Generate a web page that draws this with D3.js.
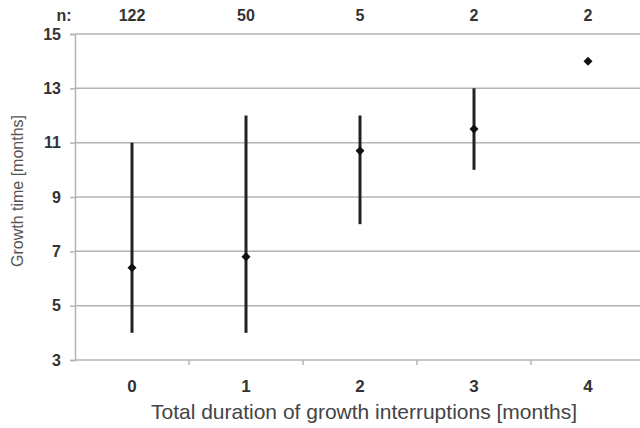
<!DOCTYPE html>
<html><head><meta charset="utf-8">
<script src="https://cdn.jsdelivr.net/npm/d3@7"></script>
<style>body{margin:0;background:#fff}svg{display:block}text{font-family:"Liberation Sans",Arial,sans-serif}</style>
</head><body>
<svg id="c" width="640" height="428"></svg>
<script>
const categories = ["0","1","2","3","4"];
const nCounts = ["122","50","5","2","2"];
const means = [6.4, 6.8, 10.7, 11.5, 14];
const mins = [4, 4, 8, 10, null];
const maxs = [11, 12, 12, 13, null];
const yTicks = [3,5,7,9,11,13,15];

const svg = d3.select("#c");
const L = 75, R = 645, T = 34, B = 360;
const x = d3.scaleBand().domain(categories).range([L, R]);
const y = d3.scaleLinear().domain([3,15]).range([B, T]);
const ink = "#333";
const grid = "#b4b4b4";
const FF = "Liberation Sans, Arial, sans-serif";

// gridlines
svg.append("g").selectAll("line").data(yTicks).join("line")
  .attr("x1", L).attr("x2", R).attr("y1", d=>y(d)).attr("y2", d=>y(d))
  .attr("stroke", grid).attr("stroke-width", 1.5);

// y axis
const ya = svg.append("g").attr("transform", `translate(${L},0)`)
  .call(d3.axisLeft(y).tickValues(yTicks).tickSize(5).tickPadding(9));
ya.select(".domain").attr("stroke", grid).attr("stroke-width", 1.5);
ya.selectAll(".tick line").attr("stroke", grid).attr("stroke-width", 1.5);
ya.selectAll(".tick text").attr("fill", ink).attr("font-size", 16).attr("font-weight", "bold")
  .attr("font-family", FF);

// x axis
const xa = svg.append("g").attr("transform", `translate(0,${B})`)
  .call(d3.axisBottom(x).tickSize(0).tickPadding(20));
xa.select(".domain").remove();
xa.selectAll(".tick text").attr("fill", ink).attr("font-size", 17).attr("font-weight", "bold")
  .attr("font-family", FF);
// x separators
svg.append("g").selectAll("line").data(categories.slice(1)).join("line")
  .attr("x1", d=>x(d)).attr("x2", d=>x(d)).attr("y1", B).attr("y2", B+5)
  .attr("stroke", grid).attr("stroke-width", 1.5);

// range bars
const idx = d3.range(categories.length);
svg.append("g").selectAll("line").data(idx.filter(i=>mins[i]!==null)).join("line")
  .attr("x1", i=>x(categories[i])+x.bandwidth()/2).attr("x2", i=>x(categories[i])+x.bandwidth()/2)
  .attr("y1", i=>y(mins[i])).attr("y2", i=>y(maxs[i]))
  .attr("stroke", "#222").attr("stroke-width", 3);

// mean diamonds
svg.append("g").selectAll("path").data(idx).join("path")
  .attr("transform", i=>`translate(${x(categories[i])+x.bandwidth()/2},${y(means[i])})`)
  .attr("d", "M0,-4.5L4.5,0L0,4.5L-4.5,0Z").attr("fill", "#111");

// n labels
svg.append("text").attr("x", 64).attr("y", 21).attr("text-anchor","middle")
  .attr("font-size", 16).attr("font-weight","bold").attr("fill", ink).text("n:");
svg.append("g").selectAll("text").data(idx).join("text")
  .attr("x", i=>x(categories[i])+x.bandwidth()/2).attr("y", 21).attr("text-anchor","middle")
  .attr("font-size", 16).attr("font-weight","bold").attr("fill", ink).text(i=>nCounts[i]);

// axis titles
svg.append("text").attr("x", 364).attr("y", 419).attr("text-anchor","middle")
  .attr("font-size", 21).attr("fill", "#444").text("Total duration of growth interruptions [months]");
svg.append("text").attr("transform", "translate(23,191) rotate(-90)").attr("text-anchor","middle")
  .attr("font-size", 16).attr("fill", "#555").text("Growth time [months]");
</script>
</body></html>
